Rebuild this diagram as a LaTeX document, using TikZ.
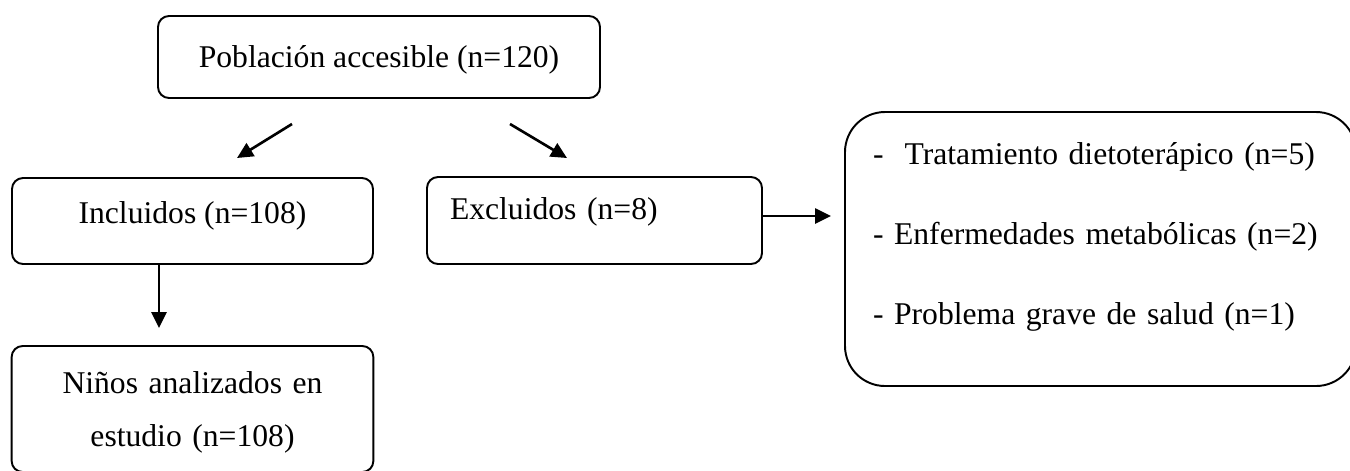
\documentclass[tikz,border=0pt]{standalone}
\usepackage{fontspec}
\setmainfont{Liberation Serif}
\usetikzlibrary{arrows.meta}

\begin{document}
\begin{tikzpicture}[font=\fontsize{18pt}{30.6pt}\selectfont,
        box/.style={draw,line width=1.1pt,rounded corners=0.22cm,text height=13pt},
        arr/.style={-{Triangle[length=3.2mm,width=3mm]},line width=1.5pt}]
      \useasboundingbox (0,0) rectangle (27,-9.4);
      \node[box,minimum width=8.84cm,minimum height=1.64cm,text depth=0.5pt] (pob) at (7.58,-1.14) {Población accesible (n=120)};
      \node[box,minimum width=7.22cm,minimum height=1.72cm,text depth=10.7pt] (incl) at (3.85,-4.42) {Incluidos (n=108)};
      \node[box,minimum width=6.7cm,minimum height=1.74cm,text depth=13.6pt,
            text width=5.78cm,inner xsep=0.46cm,align=left] (excl) at (11.89,-4.41) {Excluidos (n=8)};
      \node[box,minimum width=10.22cm,minimum height=5.48cm,rounded corners=0.8cm,text depth=109.4pt,
            text width=9.1cm,align=left,font=\fontsize{18pt}{45.6pt}\selectfont] (crit) at (22.01,-4.98)
            {-\ \ Tratamiento dietoterápico (n=5)\\- Enfermedades metabólicas (n=2)\\- Problema grave de salud (n=1)};
      \node[box,minimum width=7.22cm,minimum height=2.52cm,text depth=31.1pt,
            text width=7cm,align=center] (ninos) at (3.85,-8.18) {Niños analizados en\\estudio (n=108)};
      % free ends of the arrows
      \coordinate (d1) at (5.84,-2.48);
      \coordinate (i1) at (4.74,-3.16);
      \coordinate (d2) at (10.2,-2.48);
      \coordinate (e1) at (11.34,-3.16);
      \coordinate (n1) at (3.18,-6.56);
      \coordinate (c1) at (16.62,-4.32);
      \draw[arr] (d1) -- (i1);
      \draw[arr] (d2) -- (e1);
      \draw[arr] (incl.south -| n1) -- (n1);
      \draw[arr] (excl.east |- c1) -- (c1);
    \end{tikzpicture}
\end{document}
